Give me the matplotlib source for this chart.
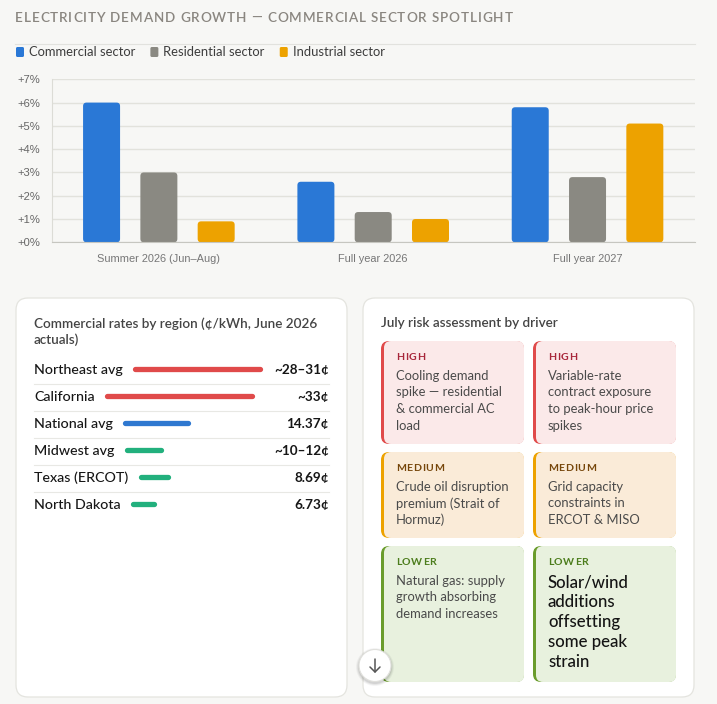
import matplotlib
matplotlib.use('Agg')
import matplotlib.pyplot as plt
from matplotlib.patches import FancyBboxPatch, Circle
from matplotlib.font_manager import FontProperties

# ---------------- data ----------------
title = 'ELECTRICITY DEMAND GROWTH — COMMERCIAL SECTOR SPOTLIGHT'
categories = ['Summer 2026 (Jun–Aug)', 'Full year 2026', 'Full year 2027']
series_names = ['Commercial sector', 'Residential sector', 'Industrial sector']
commercial = [6.0, 2.6, 5.8]
residential = [3.0, 1.3, 2.8]
industrial = [0.9, 1.0, 5.1]
y_ticks = [0, 1, 2, 3, 4, 5, 6, 7]
y_tick_labels = ['+0%', '+1%', '+2%', '+3%', '+4%', '+5%', '+6%', '+7%']

rates_title = ['Commercial rates by region (¢/kWh, June 2026', 'actuals)']
regions = ['Northeast avg', 'California', 'National avg', 'Midwest avg', 'Texas (ERCOT)', 'North Dakota']
region_values = ['~28–31¢', '~33¢', '14.37¢', '~10–12¢', '8.69¢', '6.73¢']
region_bar_pct = [99, 82, 44, 28, 22, 17]
region_tier = ['high', 'high', 'national', 'low', 'low', 'low']

risk_title = 'July risk assessment by driver'
risk_levels = ['HIGH', 'HIGH', 'MEDIUM', 'MEDIUM', 'LOWER', 'LOWER']
risk_texts = [
    ['Cooling demand', 'spike — residential', '& commercial AC', 'load'],
    ['Variable-rate', 'contract exposure', 'to peak-hour price', 'spikes'],
    ['Crude oil disruption', 'premium (Strait of', 'Hormuz)'],
    ['Grid capacity', 'constraints in', 'ERCOT & MISO'],
    ['Natural gas: supply', 'growth absorbing', 'demand increases'],
    ['Solar/wind', 'additions', 'offsetting', 'some peak', 'strain'],
]

# ---------------- styles ----------------
W, H = 717, 704
BG = '#f7f7f5'
SERIES_COLORS = ['#2a78d6', '#8a8982', '#eda200']
TIER_COLORS = {'high': '#e04a4a', 'national': '#2f78d0', 'low': '#22b07d'}
LEVEL_STYLE = {
    'HIGH': dict(border='#e04a4a', bg='#fbe9e9', label='#a8263a'),
    'MEDIUM': dict(border='#eda200', bg='#faebd8', label='#76460a'),
    'LOWER': dict(border='#6a9c2c', bg='#e8f1de', label='#4c7d1c'),
}
UI = 'Lato'
CHART = 'Liberation Sans'


def fs(px):
    return px * 0.72


fig = plt.figure(figsize=(W / 100, H / 100), dpi=100, facecolor=BG)
ov = fig.add_axes([0, 0, 1, 1], zorder=0)
ov.set_xlim(0, W)
ov.set_ylim(H, 0)
ov.axis('off')
renderer = fig.canvas.get_renderer()


def text_extent(t):
    bb = t.get_window_extent(renderer)
    return bb.x0, bb.x1


def spaced_text(x, y, s, spacing, size_px, weight='normal', color='k', family=UI):
    prop = FontProperties(family=family, size=fs(size_px), weight=weight)

    def wid(txt):
        return renderer.get_text_width_height_descent(txt + 'H', prop, ismath=False)[0]
    base = wid('')
    for i, ch in enumerate(s):
        xi = x + (wid(s[:i]) - base) + spacing * i
        if ch != ' ':
            ov.text(xi, y, ch, fontproperties=prop, color=color, va='center', ha='left')


# ---------------- header ----------------
spaced_text(15, 18, title, 0.85, 13.5, weight='semibold', color='#8a8680')
ov.plot([15, 695], [44, 44], color='#e2e2de', lw=0.8)

lx = 16
for name, col in zip(series_names, SERIES_COLORS):
    ov.add_patch(FancyBboxPatch((lx, 47), 8, 10, boxstyle='round,pad=0,rounding_size=1.5',
                                fc=col, ec='none'))
    t = ov.text(lx + 13, 52, name, fontsize=fs(13), color='#3d3d3d', va='center',
                ha='left', family=UI)
    _, x1 = text_extent(t)
    lx = x1 + 15

# ---------------- bar chart ----------------
ax_l, ax_r, ax_t, ax_b = 51.7, 694.7, 79.3, 242.3
ax = fig.add_axes([ax_l / W, 1 - ax_b / H, (ax_r - ax_l) / W, (ax_b - ax_t) / H], zorder=1)
ax.set_facecolor('none')
ax.set_xlim(-0.5, len(categories) - 0.5)
ax.set_ylim(0, 7)
px_per_x = (ax_r - ax_l) / len(categories)
px_per_y = (ax_b - ax_t) / 7.0
bw = 37 / px_per_x
off = 57.3 / px_per_x
xs = list(range(len(categories)))
for si, (vals, col) in enumerate(zip([commercial, residential, industrial], SERIES_COLORS)):
    bars = ax.bar([x + (si - 1) * off for x in xs], vals, width=bw, color=col, zorder=3)
    for b in bars:
        b.set_visible(False)
        r = 3.5 / px_per_x
        ax.add_patch(FancyBboxPatch((b.get_x(), 0), b.get_width(), b.get_height(),
                                    boxstyle=f'round,pad=0,rounding_size={r}',
                                    mutation_aspect=px_per_x / px_per_y,
                                    fc=col, ec='none', zorder=3))
ax.set_yticks(y_ticks)
ax.set_yticklabels(y_tick_labels)
ax.set_xticks(xs)
ax.set_xticklabels(categories)
ax.grid(axis='y', color='#e2e2dc', lw=1, zorder=0)
ax.set_axisbelow(True)
for s in ['top', 'right']:
    ax.spines[s].set_visible(False)
ax.spines['left'].set_color('#dcdcd6')
ax.spines['bottom'].set_color('#c6c6c0')
ax.spines['bottom'].set_zorder(4)
ax.tick_params(axis='y', length=0, pad=fs(11.5), labelsize=fs(11.3), labelcolor='#666666')
ax.tick_params(axis='x', length=0, pad=fs(12), labelsize=fs(11), labelcolor='#777777')
for lab in ax.get_yticklabels() + ax.get_xticklabels():
    lab.set_family(CHART)

# ---------------- cards ----------------
for cx in (16, 363):
    ov.add_patch(FancyBboxPatch((cx, 298), 331, 399, boxstyle='round,pad=0,rounding_size=12',
                                fc='white', ec='#e4e4df', lw=0.9))

# left card: rates
for i, line in enumerate(rates_title):
    ov.text(34, 324 + 16 * i, line, fontsize=fs(13.5), color='#444444', fontweight='semibold',
            va='center', ha='left', family=UI)

row_y0, row_h = 370, 27
for i, (reg, val, pct, tier) in enumerate(zip(regions, region_values, region_bar_pct, region_tier)):
    y = row_y0 + row_h * i
    tl = ov.text(34, y, reg, fontsize=fs(14.2), color='#161616', fontweight='medium',
                 va='center', ha='left', family=UI)
    tv = ov.text(329, y, val, fontsize=fs(13.5), color='#161616', fontweight='bold',
                 va='center', ha='right', family=UI)
    _, lx1 = text_extent(tl)
    vx0, _ = text_extent(tv)
    start = lx1 + 10
    track = (vx0 - 10) - start
    length = track * pct / 100.0
    ov.plot([start + 2.6, start + length - 2.6], [y - 1, y - 1], color=TIER_COLORS[tier],
            lw=fs(5.3), solid_capstyle='round')
    if i < len(regions) - 1:
        ov.plot([34, 329], [y + 13.5, y + 13.5], color='#e8e8e4', lw=0.8)

# right card: risk tiles
ov.text(381, 323, risk_title, fontsize=fs(13.5), color='#444444', fontweight='semibold',
        va='center', ha='left', family=UI)
col_x = [381, 533]
row_top = [341, 452, 546]
row_hts = [103, 86, 136]
tile_w = 143
for k, (lvl, lines) in enumerate(zip(risk_levels, risk_texts)):
    st = LEVEL_STYLE[lvl]
    x0 = col_x[k % 2]
    y0 = row_top[k // 2]
    h = row_hts[k // 2]
    ov.add_patch(FancyBboxPatch((x0, y0), tile_w, h, boxstyle='round,pad=0,rounding_size=8',
                                fc=st['border'], ec='none'))
    ov.add_patch(FancyBboxPatch((x0 + 3, y0), tile_w - 3, h, boxstyle='round,pad=0,rounding_size=7',
                                fc=st['bg'], ec='none'))
    spaced_text(x0 + 15, y0 + 16.3, lvl, 0.6, 10.5, weight='bold', color=st['label'])
    big = (k == len(risk_levels) - 1)
    for j, ln in enumerate(lines):
        if big:
            ov.text(x0 + 15, y0 + 36.3 + 20 * j, ln, fontsize=fs(16.8), color='#141414',
                    fontweight='medium', va='center', ha='left', family=UI)
        else:
            ov.text(x0 + 15, y0 + 34.7 + 16.7 * j, ln, fontsize=fs(13), color='#4a4a4a',
                    va='center', ha='left', family=UI)

# scroll button
for r, a in [(19, 0.04), (18, 0.06), (17, 0.08)]:
    ov.add_patch(Circle((375, 667), r, fc='#000000', alpha=a, ec='none'))
ov.add_patch(Circle((375, 665.5), 16, fc='white', ec='#e0e0dc', lw=0.8))
ov.plot([375, 375], [659, 672], color='#555555', lw=1.1, solid_capstyle='round')
ov.plot([370, 375, 380], [667, 672, 667], color='#555555', lw=1.1, solid_capstyle='round',
        solid_joinstyle='round')

fig.savefig('out.png', dpi=100, facecolor=BG)
